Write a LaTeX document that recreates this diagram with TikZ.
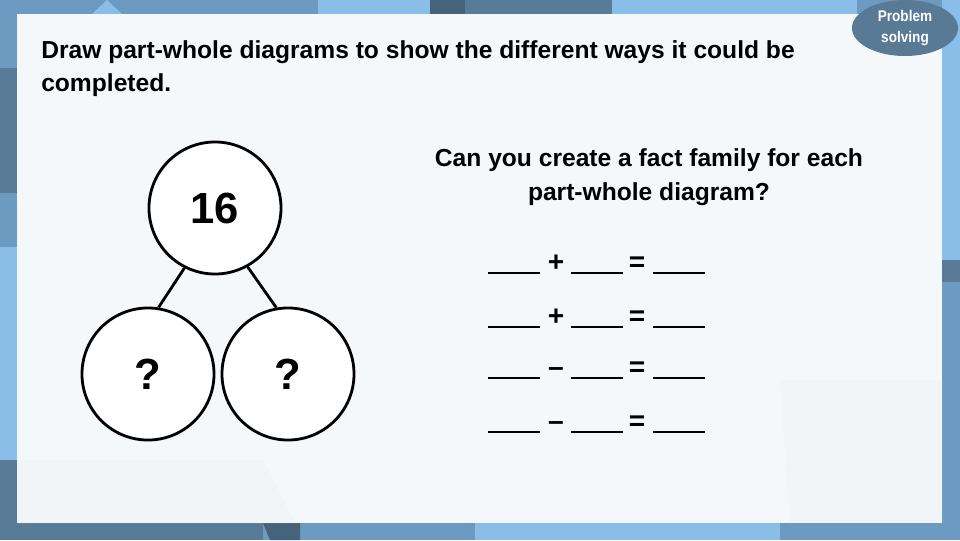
\documentclass[tikz,border=0pt]{standalone}
\usepackage{fontspec}
\usetikzlibrary{shapes.geometric}
\setmainfont{Liberation Sans}
\newfontfamily\gothic{Liberation Sans}
\newfontfamily\gothicnarrow[FakeStretch=0.88]{Liberation Sans}

\definecolor{bgmid}{HTML}{6C9AC0}
\definecolor{bglight}{HTML}{8ABEE9}
\definecolor{bgdark}{HTML}{587C98}
\definecolor{bgdeep}{HTML}{46637C}
\definecolor{panel}{HTML}{F5F8FB}
\definecolor{panelgrey}{HTML}{EEF1F4}
\definecolor{badge}{HTML}{587A95}

\tikzset{
  part/.style={circle, draw=black, line width=2pt, fill=white, minimum size=3.3cm,
    inner sep=0pt, font=\gothic\bfseries\fontsize{31}{31}\selectfont},
  link/.style={line width=2pt},
  blank/.style={line width=1.4pt},
  op/.style={anchor=base, inner sep=0pt, font=\gothic\bfseries\fontsize{20}{20}\selectfont},
}

\begin{document}
\begin{tikzpicture}[x=0.025cm, y=-0.025cm]
  \useasboundingbox (0,0) rectangle (960,540);

  % background
  \fill[bgmid] (0,0) rectangle (960,540);
  \fill[bgdark] (0,68) rectangle (17,193);
  \fill[bglight] (0,247) rectangle (17,460);
  \fill[bgdark] (0,460) rectangle (17,540);
  \fill[bglight] (942,0) rectangle (960,260);
  \fill[bgdark] (942,260) rectangle (960,282);
  \fill[bgdark] (0,523) rectangle (263,540);
  \fill[bgdeep] (263,523) -- (300,523) -- (300,540) -- (270,540) -- cycle;
  \fill[bglight] (475,523) rectangle (780,540);
  \fill[bglight] (92,14) -- (107,0) -- (122,14) -- cycle;
  \fill[bglight] (318,0) rectangle (430,14);
  \fill[bgdeep] (430,0) rectangle (465,14);
  \fill[bgdark] (465,0) rectangle (612,14);
  \fill[bglight] (612,0) rectangle (857,14);

  % panel
  \fill[panel] (17,14) rectangle (942,523);
  \fill[panelgrey, opacity=0.4] (17,460) -- (263,460) -- (295,523) -- (17,523) -- cycle;
  \fill[panelgrey, opacity=0.4] (780,380) -- (942,380) -- (942,523) -- (790,523) -- cycle;

  % badge
  \node[ellipse, fill=badge, minimum width=2.65cm, minimum height=1.4cm, inner sep=0pt,
    text=white, align=center, font=\gothicnarrow\bfseries\fontsize{11}{15}\selectfont]
    (badge) at (905,28) {Problem\\solving};

  % task text
  \node[anchor=west, align=left, inner sep=0pt, font=\gothic\bfseries\fontsize{17.5}{23.5}\selectfont]
    (task) at (41,69) {Draw part-whole diagrams to show the different ways it could be\\completed.};
  \node[align=center, inner sep=0pt, font=\gothic\bfseries\fontsize{17.5}{24}\selectfont]
    (question) at (649,177) {Can you create a fact family for each\\part-whole diagram?};

  % part-whole model
  \node[part] (whole) at (215,208) {16};
  \node[part] (partA) at (148,374) {?};
  \node[part] (partB) at (288,374) {?};
  \draw[link] (whole.243) -- (partA.81);
  \draw[link] (whole.299) -- (partB.100);

  % fact family
  \foreach \sym/\y [count=\i] in {+/273, +/327, \textendash/378, \textendash/432} {
    \coordinate (r\i a) at (488,\y);
    \coordinate (r\i b) at (540,\y);
    \coordinate (r\i c) at (571,\y);
    \coordinate (r\i d) at (623,\y);
    \coordinate (r\i e) at (653,\y);
    \coordinate (r\i f) at (705,\y);
    \draw[blank] (r\i a) -- (r\i b);
    \draw[blank] (r\i c) -- (r\i d);
    \draw[blank] (r\i e) -- (r\i f);
    \node[op] (sym\i) at (556,\y-2) {\sym};
    \node[op] (eq\i) at (637,\y-2) {=};
  }
\end{tikzpicture}
\end{document}
